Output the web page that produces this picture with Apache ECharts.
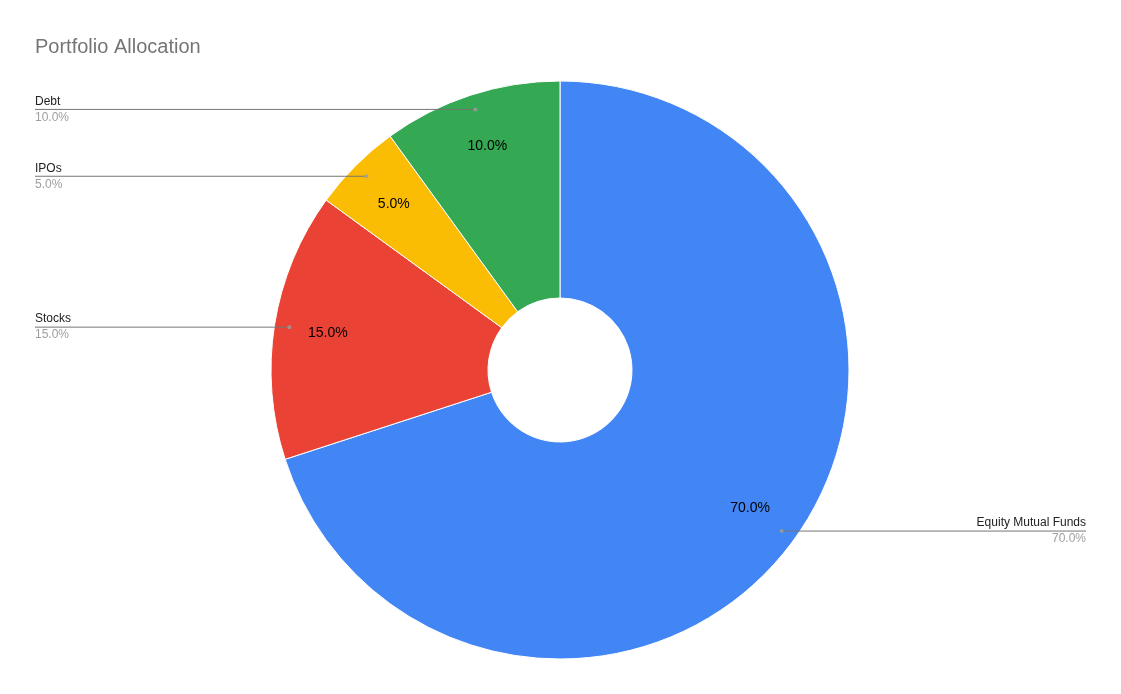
<!DOCTYPE html>
<html>
<head>
<meta charset="utf-8">
<script src="https://cdn.jsdelivr.net/npm/echarts@6/dist/echarts.min.js"></script>
<style>
html,body{margin:0;padding:0;background:#fff;}
#chart{width:1121px;height:694px;}
</style>
</head>
<body>
<div id="chart"></div>
<script>
const title = 'Portfolio Allocation';
const categories = ['Equity Mutual Funds', 'Stocks', 'IPOs', 'Debt'];
const values = [70, 15, 5, 10];
const colors = ['#4285f4', '#ea4335', '#fbbc04', '#34a853'];

const total = values.reduce((a, b) => a + b, 0);
const pctText = v => (v / total * 100).toFixed(1) + '%';
const mids = [];
let acc = 0;
values.forEach(v => { mids.push((acc + v / 2) / total * 100); acc += v; });

const CENTER = [560, 370];
const R_OUT = 289, R_IN = 72;
const EDGE = 35;
const FONT = 'Liberation Sans, Arial, sans-serif';

const mainData = categories.map((c, i) => ({ name: c, value: values[i], itemStyle: { color: colors[i] } }));
const ghostData = categories.map((c, i) => ({ name: c, value: values[i] }));

const chart = echarts.init(document.getElementById('chart'), null, { renderer: 'canvas' });
const W = chart.getWidth();
chart.setOption({
  animation: false,
  backgroundColor: '#fff',
  title: {
    text: title, left: 35, top: 37, padding: 0,
    textStyle: { fontFamily: FONT, fontSize: 20, fontWeight: 'normal', color: '#757575' }
  },
  polar: { center: CENTER, radius: R_OUT },
  angleAxis: { type: 'value', min: 0, max: 100, startAngle: 90, clockwise: true, show: false },
  radiusAxis: { type: 'value', min: 0, max: 1, show: false },
  series: [
    {
      type: 'pie', center: CENTER, radius: [R_IN, R_OUT], silent: true,
      startAngle: 90, clockwise: true,
      label: { show: false }, labelLine: { show: false },
      itemStyle: { borderColor: '#ffffff', borderWidth: 1 },
      data: mainData, z: 2
    },
    {
      type: 'pie', center: CENTER, radius: [175, R_OUT], silent: true,
      startAngle: 90, clockwise: true,
      itemStyle: { color: 'rgba(0,0,0,0)' },
      label: {
        show: true, position: 'inside',
        formatter: p => pctText(p.value),
        color: '#000', fontSize: 14, fontFamily: FONT
      },
      labelLine: { show: false },
      data: ghostData, z: 3
    },
    {
      type: 'pie', center: CENTER, radius: [0, 274], silent: true,
      startAngle: 90, clockwise: true, avoidLabelOverlap: false,
      itemStyle: { color: 'rgba(0,0,0,0)' },
      label: {
        show: true, position: 'outside', alignTo: 'edge', edgeDistance: EDGE,
        distanceToLabelLine: 0,
        fontFamily: FONT,
        formatter: p => '{name|' + p.name + '}\n{pct|' + pctText(p.value) + '}',
        rich: {
          name: { fontSize: 12, color: '#222222', lineHeight: 16, fontFamily: FONT },
          pct: { fontSize: 12, color: '#9e9e9e', lineHeight: 16, fontFamily: FONT }
        }
      },
      labelLine: { show: true, length: 0, length2: 20, lineStyle: { color: '#757575', width: 1 } },
      labelLayout: function (p) {
        const pts = p.labelLinePoints;
        if (!pts) return {};
        const start = pts[0];
        const isLeft = start[0] < CENTER[0];
        const endX = isLeft ? EDGE : W - EDGE;
        return { labelLinePoints: [[start[0], start[1]], [start[0], start[1]], [endX, start[1]]] };
      },
      data: ghostData, z: 4
    },
    {
      type: 'scatter', coordinateSystem: 'polar', silent: true,
      symbol: 'circle', symbolSize: 4,
      itemStyle: { color: '#9e9e9e' },
      data: mids.map(m => [274 / R_OUT, m]), z: 10
    }
  ]
});
</script>
</body>
</html>
